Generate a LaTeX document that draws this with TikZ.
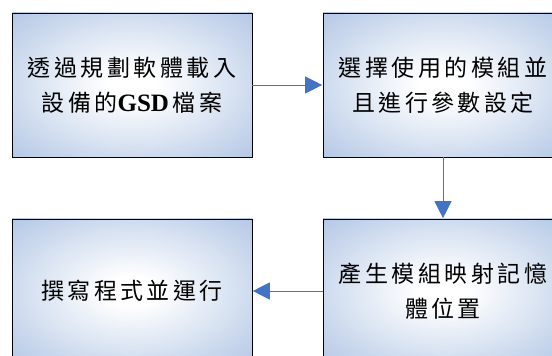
\documentclass[tikz,border=0pt]{standalone}
\usepackage{fontspec}
\usetikzlibrary{arrows.meta}
\newfontfamily\cjk[LetterSpace=15]{Noto Sans CJK TC}
\newfontfamily\latb{Liberation Serif Bold}
\definecolor{edgeblue}{RGB}{164,188,224}
\definecolor{arrowblue}{RGB}{68,114,196}
\pgfdeclareradialshading{boxshade}{\pgfpoint{0bp}{0bp}}{color(0bp)=(white); color(5bp)=(white); color(42bp)=(edgeblue); color(72bp)=(edgeblue)}
\tikzset{
  stepbox/.style={draw=black, line width=0.8pt, shading=boxshade, minimum width=240pt, minimum height=144pt, inner sep=0pt, align=center, font=\cjk\fontsize{23}{35}\selectfont},
  conn/.style={draw=arrowblue, line width=0.9pt, -{Triangle[length=17pt,width=17pt]}, shorten >=0.4pt}
}
\begin{document}
\begin{tikzpicture}[x=1pt,y=1pt]
\useasboundingbox (0,0) rectangle (552,356);
\node[stepbox] (a) at (132,271) {透過規劃軟體載入\\設備的{\latb\fontsize{25}{35}\selectfont GSD}\,檔案};
\node[stepbox] (b) at (443,271) {選擇使用的模組並\\且進行參數設定};
\node[stepbox] (d) at (443,65) {產生模組映射記憶\\體位置};
\node[stepbox] (c) at (132,65) {撰寫程式並運行};
\draw[conn] (a) -- (b);
\draw[conn] (b) -- (d);
\draw[conn] (d) -- (c);
\end{tikzpicture}
\end{document}
